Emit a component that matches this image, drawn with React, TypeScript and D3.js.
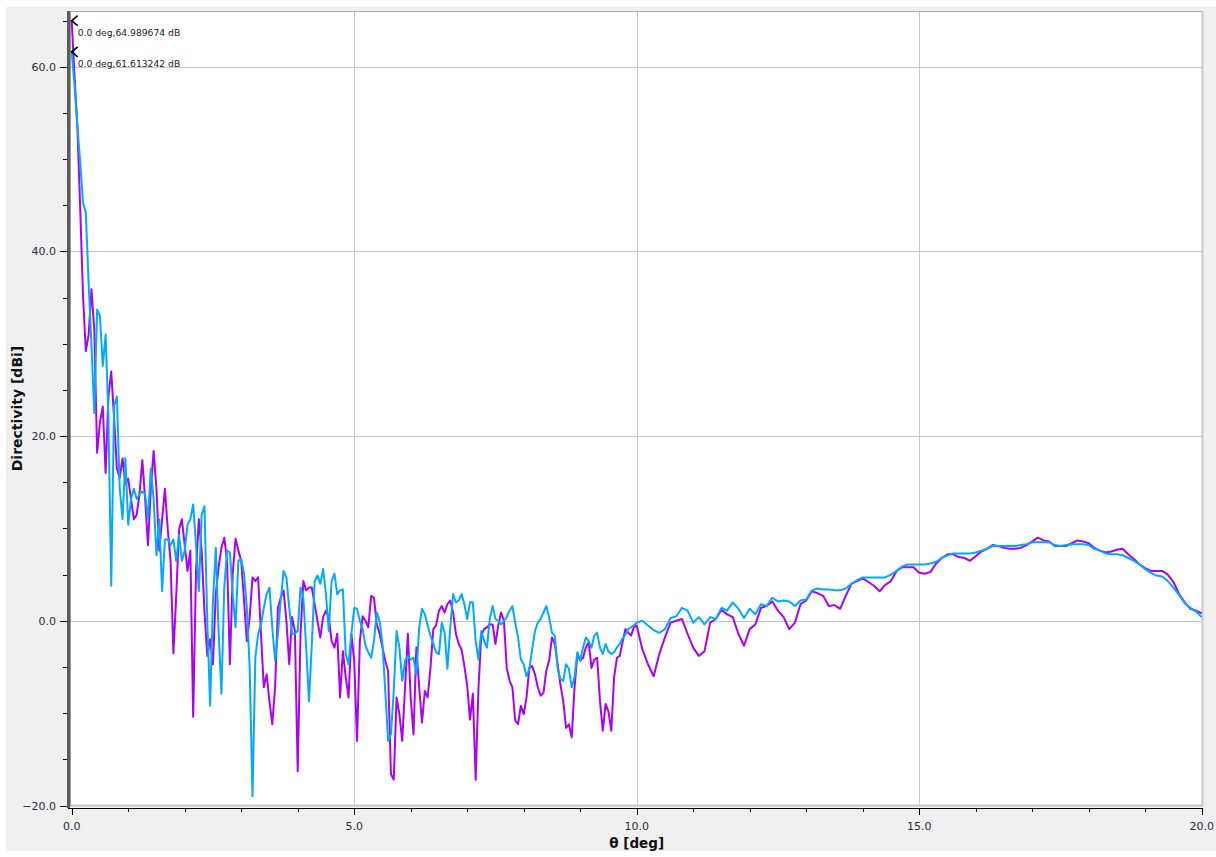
import * as d3 from "d3";

// θ sampled every 0.05° from 0 to 9.95°, then every 0.1° from 10 to 20°
const FINE_STEP = 0.05;
const COARSE_STEP = 0.1;
const COARSE_START = 10;

// purple trace
const purpleFine0 = [
  64.99, 59.0, 53.6, 44.8, 35.3, 29.2, 31.0, 35.9, 31.5, 18.2,
  21.5, 23.2, 16.0, 24.3, 27.0, 22.0, 16.5, 15.5, 17.6, 14.8,
  15.4, 13.2, 11.0, 11.5, 13.7, 17.4, 13.2, 8.2, 14.3, 18.4,
  14.3, 7.6, 11.0, 14.3, 9.9, 6.5, -3.5, 2.7, 9.9, 11.0,
  8.2, 5.4, 7.6, -10.4, 5.4, 11.0, 7.6, 1.0, -3.8, -2.0,
];
const purpleFine1 = [
  -4.7, 2.9, 5.8, 7.9, 9.0, 6.5, -4.7, 5.1, 8.9, 7.6,
  6.5, 2.2, -2.2, 0.4, 4.7, 4.3, 4.7, -1.4, -7.2, -5.8,
  -8.7, -11.2, -7.2, 1.4, 2.5, 3.3, 0.0, -4.7, 0.4, -1.1,
  -16.3, -1.4, 4.3, 3.3, 3.6, 3.6, 1.8, 0.0, -1.8, 0.4,
  1.1, 0.4, -2.2, -2.9, -1.4, -8.3, -3.3, -6.1, -8.3, -1.4,
];
const purpleFine2 = [
  -4.3, -13.0, -2.2, 0.5, 0.0, -0.7, 2.7, 2.5, -0.4, -1.4,
  -2.9, -4.3, -5.4, -16.6, -17.2, -8.3, -10.1, -13.0, -7.2, -1.4,
  -8.3, -12.3, -2.9, -7.2, -11.0, -7.6, -8.3, -5.1, -0.9, -0.5,
  1.1, 1.6, 0.9, 1.8, 2.2, 0.9, -1.4, -2.5, -3.1, -4.9,
  -7.0, -10.7, -7.9, -17.2, -7.2, -1.6, -0.9, -0.7, -0.4, -0.4,
  -2.5, -0.5, 0.9, 0.0, -5.1, -6.5, -7.2, -10.8, -11.2, -9.2,
  -10.1, -8.3, -5.1, -4.9, -5.8, -7.2, -8.1, -7.8, -5.4, -4.3,
  -1.8, -2.5, -4.7, -6.9, -8.7, -11.6, -11.2, -12.6, -7.2, -3.6,
  -4.3, -4.0, -2.9, -2.3, -5.1, -4.2, -4.0, -8.7, -11.9, -9.0,
  -9.8, -11.9, -6.1, -4.0, -3.8, -2.3, -0.9, -1.3, -1.6, -0.7,
];
const purpleCoarse = [
  -0.5, -3.1, -4.7, -6.0, -3.6, -1.8, -0.2, 0.0, 0.2, -1.4,
  -2.9, -3.8, -3.3, -0.2, 0.2, 1.2, 0.7, 0.4, -1.4, -2.7,
  -0.9, -0.4, 1.4, 1.6, 2.1, 1.1, 0.4, -0.9, -0.2, 1.8,
  2.2, 3.2, 3.0, 2.7, 1.6, 1.7, 1.3, 2.7, 4.0, 4.3,
  4.6, 4.2, 3.8, 3.2, 3.9, 4.3, 5.4, 5.8, 5.8, 5.8,
  5.2, 5.1, 5.3, 6.2, 6.8, 7.2, 7.2, 6.9, 6.8, 6.5,
  7.0, 7.5, 7.8, 8.2, 8.1, 7.9, 7.8, 7.8, 7.9, 8.2,
  8.6, 9.0, 8.7, 8.6, 8.1, 8.1, 8.1, 8.4, 8.7, 8.6,
  8.4, 7.9, 7.6, 7.4, 7.5, 7.7, 7.8, 7.2, 6.7, 6.1,
  5.7, 5.4, 5.4, 5.4, 5.0, 4.2, 2.9, 2.0, 1.3, 1.1,
  0.8,
];

// cyan trace
const cyanFine0 = [
  61.61, 58.0, 53.6, 49.7, 45.3, 44.2, 36.5, 29.8, 22.5, 33.7,
  33.0, 27.6, 31.0, 22.0, 3.8, 23.2, 24.3, 14.3, 11.0, 17.6,
  10.4, 13.2, 14.3, 13.2, 13.7, 14.0, 13.7, 11.0, 16.5, 13.2,
  7.1, 11.0, 3.2, 8.8, 8.8, 8.2, 8.8, 6.5, 9.3, 6.5,
  7.6, 10.4, 11.0, 12.6, 8.2, 3.2, 11.5, 12.4, -0.1, -9.2,
];
const cyanFine1 = [
  2.2, 7.9, -1.1, -7.9, 3.6, 7.6, 7.4, 2.9, -0.7, 6.5,
  6.7, 5.1, 1.4, -5.1, -19.0, -4.0, -1.4, -0.4, 1.4, 2.9,
  3.6, -0.7, -4.3, -1.4, 2.2, 5.4, 4.7, 1.4, -1.4, -1.4,
  -1.1, 3.6, 2.5, -2.9, -8.7, -2.5, 4.3, 4.9, 4.0, 5.6,
  2.9, -1.1, 4.3, 5.1, 2.9, 3.3, 3.4, -3.6, -4.7, -1.4,
];
const cyanFine2 = [
  1.4, 1.3, 0.0, -0.9, -2.7, -3.4, -4.0, -2.2, 0.9, 0.0,
  -2.5, -7.6, -13.0, -12.3, -7.6, -1.1, -2.9, -6.5, -4.3, -3.8,
  -4.2, -4.0, -5.8, -0.7, 1.3, 0.7, -0.5, -1.6, -2.5, -3.4,
  -3.6, -0.2, -1.3, -5.2, -0.7, 2.9, 2.0, 2.2, 2.9, 1.8,
  0.2, 2.0, 2.0, -2.2, -4.2, -1.1, -2.2, -2.9, 0.2, 1.6,
  0.2, 0.0, -0.4, 0.0, 0.4, 1.1, 1.6, -0.2, -1.8, -4.2,
  -4.7, -6.0, -5.2, -3.1, -1.1, -0.2, 0.2, 0.9, 1.6, 0.4,
  -1.3, -1.6, -5.1, -6.3, -6.5, -4.7, -5.2, -7.2, -6.1, -3.4,
  -4.3, -2.9, -1.8, -2.2, -2.9, -1.6, -1.3, -2.9, -3.6, -2.5,
  -3.3, -3.6, -3.4, -2.9, -2.5, -1.9, -1.5, -0.9, -0.7, -0.5,
];
const cyanCoarse = [
  -0.2, 0.0, -0.5, -1.0, -1.3, -0.9, 0.3, 0.5, 1.4, 1.1,
  -0.2, 0.4, -0.4, 0.4, 0.2, 1.4, 1.1, 2.0, 1.3, 0.3,
  1.3, 0.7, 1.8, 1.6, 2.5, 2.1, 2.2, 2.1, 1.6, 2.2,
  2.3, 3.3, 3.5, 3.4, 3.4, 3.3, 3.3, 3.5, 4.0, 4.4,
  4.7, 4.7, 4.7, 4.7, 4.7, 5.0, 5.4, 5.9, 6.1, 6.1,
  6.1, 6.1, 6.2, 6.4, 6.8, 7.1, 7.3, 7.3, 7.3, 7.3,
  7.4, 7.6, 7.8, 8.1, 8.1, 8.1, 8.1, 8.1, 8.2, 8.3,
  8.5, 8.5, 8.5, 8.5, 8.2, 8.1, 8.2, 8.3, 8.3, 8.3,
  8.2, 7.8, 7.6, 7.3, 7.2, 7.2, 7.1, 6.8, 6.5, 6.1,
  5.6, 5.2, 4.9, 4.8, 4.3, 3.6, 2.8, 1.9, 1.4, 1.0,
  0.4,
];

const xMajorTicks = [0, 5, 10, 15, 20];
const xMinorTicks = d3.range(0, 21, 1);
const yMajorTicks = [-20, 0, 20, 40, 60];
const yMinorTicks = d3.range(-20, 66, 5);

const peakMarkers = [
  { theta: 0, value: 64.989674, label: "0.0 deg,64.989674 dB" },
  { theta: 0, value: 61.613242, label: "0.0 deg,61.613242 dB" },
];

const PURPLE = "#aa00ff";
const CYAN = "#00aaff";

function toPoints(fine: number[][], coarse: number[]): [number, number][] {
  const fineAll = fine.flat();
  return [
    ...fineAll.map((v, i) => [i * FINE_STEP, v] as [number, number]),
    ...coarse.map((v, i) => [COARSE_START + i * COARSE_STEP, v] as [number, number]),
  ];
}

const purplePts = toPoints([purpleFine0, purpleFine1, purpleFine2], purpleCoarse);
const cyanPts = toPoints([cyanFine0, cyanFine1, cyanFine2], cyanCoarse);

export default function App() {
  const W = 1216, H = 857;
  const x = d3.scaleLinear().domain([0, 20]).range([71.7, 1201.7]);
  const y = d3.scaleLinear().domain([-20, 65.93]).range([805.5, 12]);
  const fmt = d3.format(".1f");
  const line = d3.line<[number, number]>().x((d) => x(d[0])).y((d) => y(d[1]));

  const plotL = 70, plotR = 1203, plotT = 11, plotB = 806;
  const font = "'DejaVu Sans', Verdana, sans-serif";

  return (
    <svg
      width={W}
      height={H}
      style={{ position: "absolute", left: 0, top: 0, display: "block" }}
      fontFamily={font}
    >
      <rect x={0} y={0} width={W} height={H} fill="#ffffff" />
      <rect x={6} y={7} width={W - 6} height={H - 13} fill="#f0f0f0" />
      <rect x={plotL} y={plotT} width={plotR - plotL} height={plotB - plotT} fill="#ffffff" />
      <defs>
        <clipPath id="plot-clip">
          <rect x={plotL} y={plotT} width={plotR - plotL} height={plotB - plotT} />
        </clipPath>
      </defs>

      {/* grid */}
      <g stroke="#c6c6c6" strokeWidth={1}>
        {xMajorTicks.filter((t) => t > 0 && t < 20).map((t) => (
          <line key={"gx" + t} x1={Math.round(x(t)) + 0.5} x2={Math.round(x(t)) + 0.5} y1={plotT} y2={plotB} />
        ))}
        {yMajorTicks.filter((t) => t > -20).map((t) => (
          <line key={"gy" + t} x1={plotL} x2={plotR} y1={Math.round(y(t)) + 0.5} y2={Math.round(y(t)) + 0.5} />
        ))}
      </g>

      {/* frame */}
      <line x1={plotL} x2={plotR} y1={plotT + 0.5} y2={plotT + 0.5} stroke="#a8a8a8" />
      <line x1={plotR - 0.5} x2={plotR - 0.5} y1={plotT} y2={plotB} stroke="#c8c8c8" strokeWidth={2} />
      <line x1={plotL} x2={plotR} y1={plotB - 0.5} y2={plotB - 0.5} stroke="#c8c8c8" strokeWidth={2} />
      <rect x={67} y={plotT} width={3} height={plotB - plotT + 2} fill="#5c5c5c" />
      <line x1={70.5} x2={70.5} y1={plotT} y2={plotB} stroke="#9a9a9a" />

      {/* series */}
      <g clipPath="url(#plot-clip)" fill="none" strokeWidth={2} strokeLinejoin="round">
        <path d={line(purplePts) ?? ""} stroke={PURPLE} />
        <path d={line(cyanPts) ?? ""} stroke={CYAN} />
      </g>

      {/* markers */}
      {peakMarkers.map((m) => {
        const px = x(m.theta), py = y(m.value);
        return (
          <g key={m.label}>
            <path
              d={`M${px + 6},${py - 5} L${px},${py} L${px + 6},${py + 5}`}
              fill="none"
              stroke="#000"
              strokeWidth={1.8}
            />
            <text x={px + 6} y={py + 15} fontSize={9.2} fill="#222">
              {m.label}
            </text>
          </g>
        );
      })}

      {/* x axis */}
      <line x1={68} x2={1202.5} y1={808.5} y2={808.5} stroke="#000" />
      {xMinorTicks.map((t) => (
        <line
          key={"xt" + t}
          x1={Math.round(x(t)) + 0.5}
          x2={Math.round(x(t)) + 0.5}
          y1={808}
          y2={xMajorTicks.includes(t) ? 815 : 812}
          stroke="#000"
        />
      ))}
      {xMajorTicks.map((t) => (
        <text key={"xl" + t} x={x(t)} y={830} textAnchor="middle" fontSize={11} fill="#2b2b3b">
          {fmt(t)}
        </text>
      ))}
      <text x={(x(0) + x(20)) / 2} y={848} textAnchor="middle" fontSize={13.5} fontWeight="bold" fill="#111">
        θ [deg]
      </text>

      {/* y axis */}
      {yMinorTicks.map((t) => (
        <line
          key={"yt" + t}
          x1={yMajorTicks.includes(t) ? 60 : 63}
          x2={67}
          y1={Math.round(y(t)) + 0.5}
          y2={Math.round(y(t)) + 0.5}
          stroke="#000"
        />
      ))}
      {yMajorTicks.map((t) => (
        <text key={"yl" + t} x={56} y={y(t) + 4} textAnchor="end" fontSize={11} fill="#2b2b3b">
          {fmt(t)}
        </text>
      ))}
      <text
        transform={`translate(22,${(plotT + plotB) / 2}) rotate(-90)`}
        textAnchor="middle"
        fontSize={14}
        fontWeight="bold"
        fill="#111"
      >
        Directivity [dBi]
      </text>
    </svg>
  );
}
